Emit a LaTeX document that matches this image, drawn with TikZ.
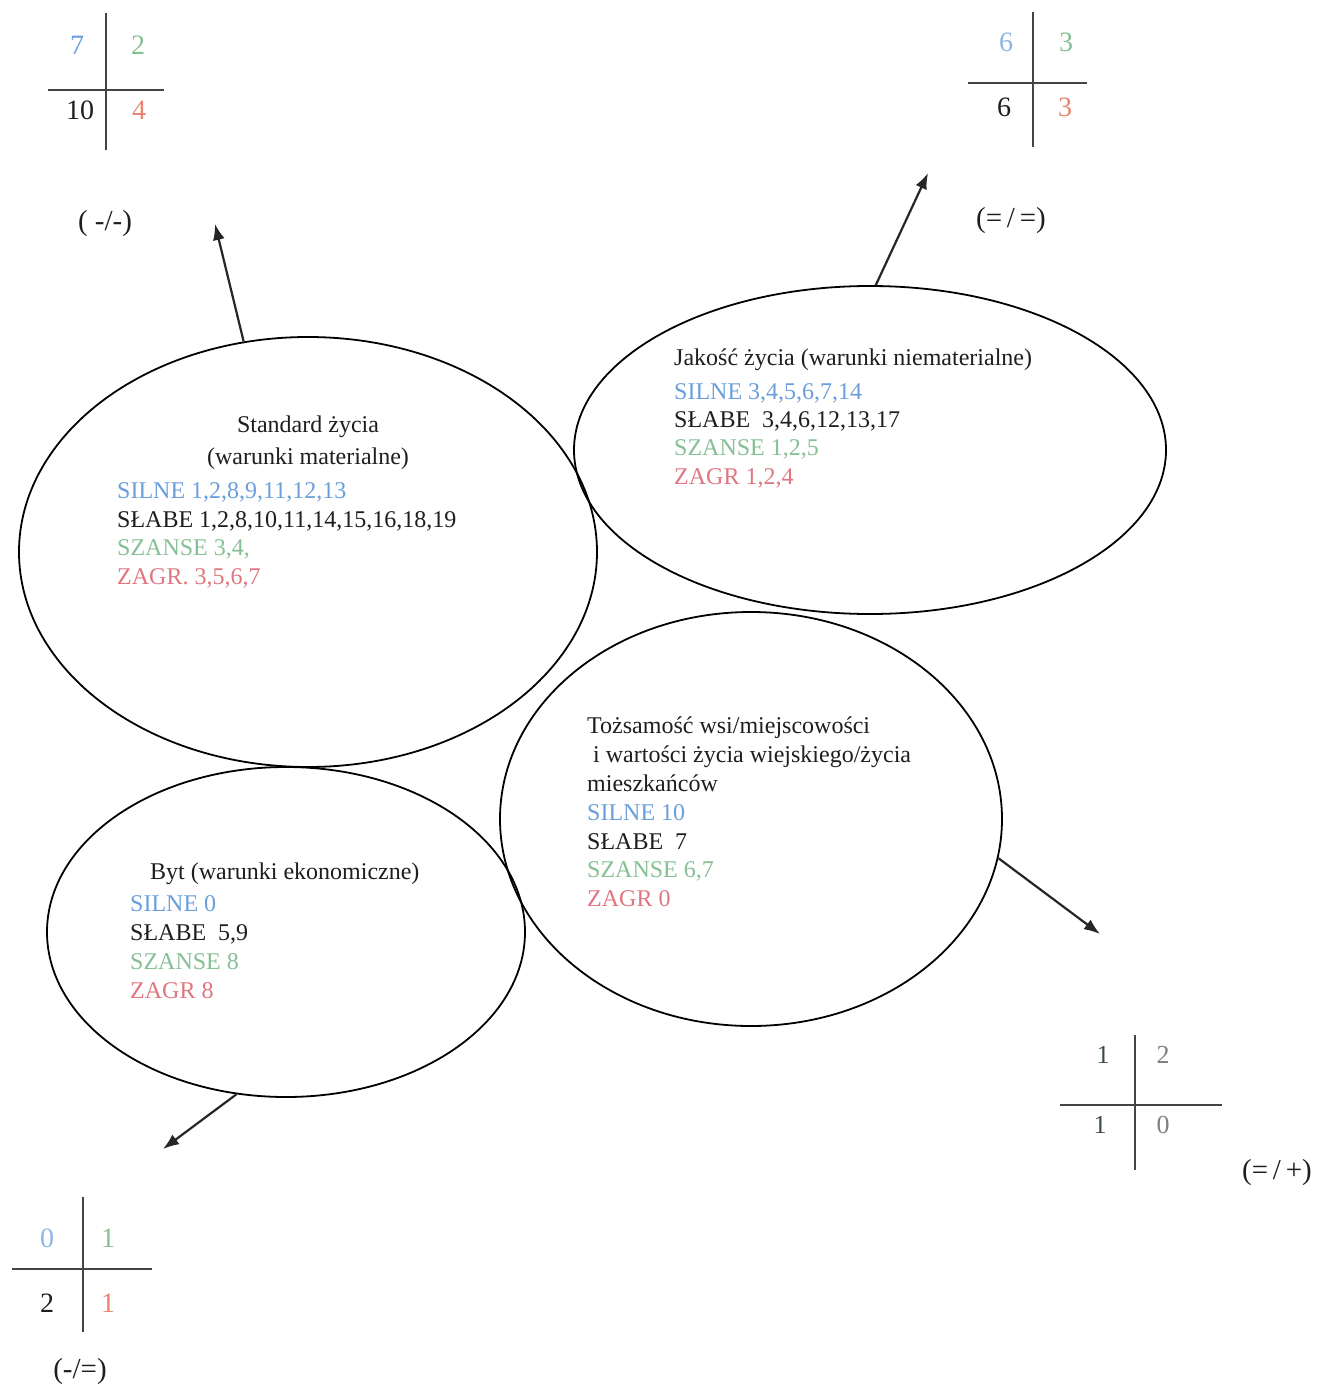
\documentclass[tikz,border=0pt]{standalone}
\usepackage{fontspec}
\setmainfont{Liberation Serif}
\usetikzlibrary{shapes.geometric,arrows.meta}
\definecolor{cblue}{HTML}{6A9FDC}
\definecolor{cltblue}{HTML}{8FB5E3}
\definecolor{cgreen}{HTML}{86C095}
\definecolor{cred}{HTML}{E07680}
\definecolor{csalmon}{HTML}{E8846F}
\definecolor{cblack}{HTML}{1E1E1E}
\definecolor{cslate}{HTML}{3D4A4A}
\definecolor{cgray}{HTML}{808080}
\definecolor{cline}{HTML}{444444}
\begin{document}
\begin{tikzpicture}[x=1pt,y=-1pt,
  txt/.style={anchor=base west,inner sep=0pt,font=\fontsize{24}{29}\selectfont,text=cblack},
  ctxt/.style={anchor=base,inner sep=0pt,font=\fontsize{24}{29}\selectfont,text=cblack},
  lbl/.style={anchor=base,inner sep=0pt,font=\fontsize{29}{34}\selectfont,text=cblack},
  num/.style={anchor=base,inner sep=0pt,font=\fontsize{28}{32}\selectfont},
  smallnum/.style={anchor=base,inner sep=0pt,font=\fontsize{26}{30}\selectfont},
  oval/.style={ellipse,draw=black,line width=1.8pt,inner sep=0pt},
  cross/.style={draw=cline,line width=2.2pt},
  arr/.style={draw=black!85,line width=2.2pt,-{Latex[length=16pt,width=12pt]}}]
\fill[white] (0,0) rectangle (1318,1386);
\useasboundingbox (0,0) rectangle (1318,1386);

% ellipses
\node[oval,minimum width=578pt,minimum height=430pt] (e1) at (308,552) {};
\node[oval,minimum width=592pt,minimum height=328pt] (e2) at (870,450) {};
\node[oval,minimum width=502pt,minimum height=414pt] (e3) at (751,819) {};
\node[oval,minimum width=478pt,minimum height=330pt] (e4) at (286,932) {};

% ellipse 1 text
\node[ctxt] (t1a) at (308,432) {Standard życia};
\node[ctxt] (t1b) at (308,464) {(warunki materialne)};
\node[txt,text=cblue] (t1c) at (117,498) {SILNE 1,2,8,9,11,12,13};
\node[txt] (t1d) at (117,527) {SŁABE 1,2,8,10,11,14,15,16,18,19};
\node[txt,text=cgreen] (t1e) at (117,555) {SZANSE 3,4,};
\node[txt,text=cred] (t1f) at (117,584) {ZAGR. 3,5,6,7};

% ellipse 2 text
\node[txt] (t2a) at (674,365) {Jakość życia (warunki niematerialne)};
\node[txt,text=cblue] (t2b) at (674,399) {SILNE 3,4,5,6,7,14};
\node[txt] (t2c) at (674,427) {SŁABE\ \ 3,4,6,12,13,17};
\node[txt,text=cgreen] (t2d) at (674,455) {SZANSE 1,2,5};
\node[txt,text=cred] (t2e) at (674,484) {ZAGR 1,2,4};

% ellipse 3 text
\node[txt] (t3a) at (587,733) {Tożsamość wsi/miejscowości};
\node[txt] (t3b) at (593,762) {i wartości życia wiejskiego/życia};
\node[txt] (t3c) at (587,791) {mieszkańców};
\node[txt,text=cblue] (t3d) at (587,820) {SILNE 10};
\node[txt] (t3e) at (587,849) {SŁABE\ \ 7};
\node[txt,text=cgreen] (t3f) at (587,877) {SZANSE 6,7};
\node[txt,text=cred] (t3g) at (587,906) {ZAGR 0};

% ellipse 4 text
\node[txt] (t4a) at (150,879) {Byt (warunki ekonomiczne)};
\node[txt,text=cblue] (t4b) at (130,911) {SILNE 0};
\node[txt] (t4c) at (130,940) {SŁABE\ \ 5,9};
\node[txt,text=cgreen] (t4d) at (130,969) {SZANSE 8};
\node[txt,text=cred] (t4e) at (130,998) {ZAGR 8};

% arrows
\coordinate (a1) at (215,224);
\coordinate (a2) at (928,173);
\coordinate (a3) at (1100,934);
\coordinate (a4) at (163,1149);
\draw[arr] (e1.107) -- (a1);
\draw[arr] (e2.88) -- (a2);
\draw[arr] (e3.-9.7) -- (a3);
\draw[arr] (e4.-107.5) -- (a4);

% cross top-left
\coordinate (c1t) at (106,13); \coordinate (c1b) at (106,150);
\coordinate (c1l) at (48,90); \coordinate (c1r) at (164,90);
\draw[cross] (c1t) -- (c1b);
\draw[cross] (c1l) -- (c1r);
\node[num,text=cblue] (n1a) at (77,55) {7};
\node[num,text=cgreen] (n1b) at (138,55) {2};
\node[num,text=cblack] (n1c) at (80,120) {10};
\node[num,text=csalmon] (n1d) at (139,120) {4};
\node[lbl] (l1) at (105,230) {( -/-)};

% cross top-right
\coordinate (c2t) at (1033,12); \coordinate (c2b) at (1033,147);
\coordinate (c2l) at (968,83); \coordinate (c2r) at (1087,83);
\draw[cross] (c2t) -- (c2b);
\draw[cross] (c2l) -- (c2r);
\node[num,text=cltblue] (n2a) at (1006,52) {6};
\node[num,text=cgreen] (n2b) at (1066,52) {3};
\node[num,text=cblack] (n2c) at (1004,117) {6};
\node[num,text=csalmon] (n2d) at (1065,117) {3};
\node[lbl] (l2) at (1011,227) {(=\,/\,=)};

% cross bottom-right
\coordinate (c3t) at (1135,1035); \coordinate (c3b) at (1135,1170);
\coordinate (c3l) at (1060,1105); \coordinate (c3r) at (1222,1105);
\draw[cross] (c3t) -- (c3b);
\draw[cross] (c3l) -- (c3r);
\node[smallnum,text=cslate] (n3a) at (1103,1063) {1};
\node[smallnum,text=cgray] (n3b) at (1163,1063) {2};
\node[smallnum,text=cslate] (n3c) at (1100,1133) {1};
\node[smallnum,text=cgray] (n3d) at (1163,1133) {0};
\node[lbl] (l3) at (1277,1179) {(=\,/\,+)};

% cross bottom-left
\coordinate (c4t) at (83,1197); \coordinate (c4b) at (83,1332);
\coordinate (c4l) at (12,1269); \coordinate (c4r) at (152,1269);
\draw[cross] (c4t) -- (c4b);
\draw[cross] (c4l) -- (c4r);
\node[num,text=cltblue] (n4a) at (47,1247) {0};
\node[num,text=cgreen] (n4b) at (108,1247) {1};
\node[num,text=cblack] (n4c) at (47,1312) {2};
\node[num,text=csalmon] (n4d) at (108,1312) {1};
\node[lbl] (l4) at (80,1378) {(-/=)};
\end{tikzpicture}
\end{document}
